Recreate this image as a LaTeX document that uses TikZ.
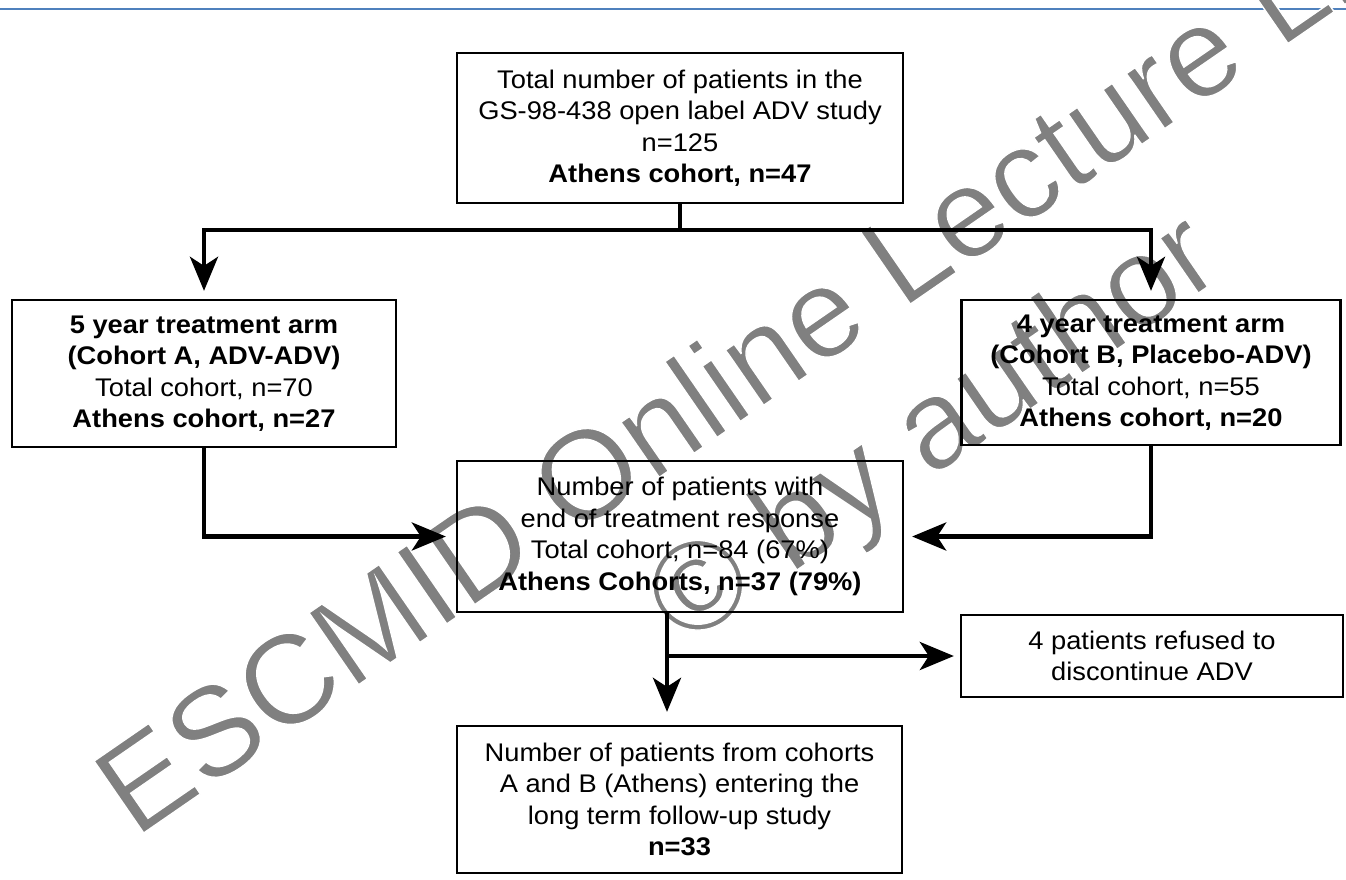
\documentclass[tikz,border=0pt]{standalone}
\usepackage{fontspec}
\setmainfont{Liberation Sans}[FakeStretch=1.07]
\newfontfamily\wmfont{Liberation Sans}
\usetikzlibrary{arrows.meta,calc}
\definecolor{wmgray}{RGB}{128,128,128}
\definecolor{topblue}{RGB}{79,129,189}
\newcommand{\thinwm}[1]{\special{pdf:literal direct 2 Tr 1 G 1.4 w}#1\special{pdf:literal direct 0 Tr}}
\tikzset{
  box/.style={draw=black, line width=2.3pt, inner sep=0pt, align=center,
    font=\fontsize{25.5pt}{31.5pt}\selectfont},
  flowline/.style={draw=black, line width=4.5pt},
  flowarrow/.style={flowline, -{Stealth[length=34pt,width=28pt,inset=9pt]}},
  wmtext/.style={text=wmgray, inner sep=0pt, anchor=base west, rotate=34.6,
    font=\wmfont\fontsize{127pt}{150pt}\selectfont}
}
\begin{document}
\begin{tikzpicture}[x=1pt,y=-1pt]
\useasboundingbox (0,0) rectangle (1346,879);
\fill[white] (0,0) rectangle (1346,879);
% top rule
\draw[topblue, line width=2pt] (0,9) -- (1346,9);
% watermark
\begin{scope}
\clip (0,0) rectangle (1346,879);
\node[wmtext] (wm1) at (135,839) {\thinwm{ESCMID Online Lecture Library}};
\node[wmtext] (wm2) at (684,648) {\thinwm{© by author}};
\end{scope}
% boxes
\node[box, minimum width=446pt, minimum height=150pt] (top) at (680,128)
  {Total number of patients in the\\GS-98-438 open label ADV study\\n=125\\\textbf{Athens cohort, n=47}};
\node[box, minimum width=384pt, minimum height=147pt] (left) at (204,373.5)
  {\textbf{5 year treatment arm}\\\textbf{(Cohort A, ADV-ADV)}\\Total cohort, n=70\\\textbf{Athens cohort, n=27}};
\node[box, minimum width=379pt, minimum height=145pt] (right) at (1151,372.5)
  {\textbf{4 year treatment arm}\\\textbf{(Cohort B, Placebo-ADV)}\\Total cohort, n=55\\\textbf{Athens cohort, n=20}};
\node[box, minimum width=446pt, minimum height=151pt] (mid) at (680,536.5)
  {Number of patients with\\end of treatment response\\Total cohort, n=84 (67\%)\\\textbf{Athens Cohorts, n=37 (79\%)}};
\node[box, minimum width=382pt, minimum height=82pt] (refused) at (1152,656)
  {4 patients refused to\\discontinue ADV};
\node[box, minimum width=445pt, minimum height=147pt] (bot) at (679.5,799.5)
  {Number of patients from cohorts\\A and B (Athens) entering the\\long term follow-up study\\\textbf{n=33}};
% connectors
\coordinate (bar) at (680,230);
\coordinate (split) at (667,656);
\draw[flowline] (top.south) -- (bar);
\draw[flowarrow, shorten >=8pt] (bar) -| (left.north);
\draw[flowarrow, shorten >=8pt] (bar) -| (right.north);
\draw[flowarrow, shorten >=10pt] (left.south) |- (mid.west);
\draw[flowarrow, shorten >=8pt] (right.south) |- (mid.east);
\draw[flowline] (mid.south -| split) -- (split);
\draw[flowarrow, shorten >=13pt] (split) -- (split |- bot.north);
\draw[flowarrow, shorten >=6pt] (split) -- (refused.west);
\end{tikzpicture}
\end{document}
